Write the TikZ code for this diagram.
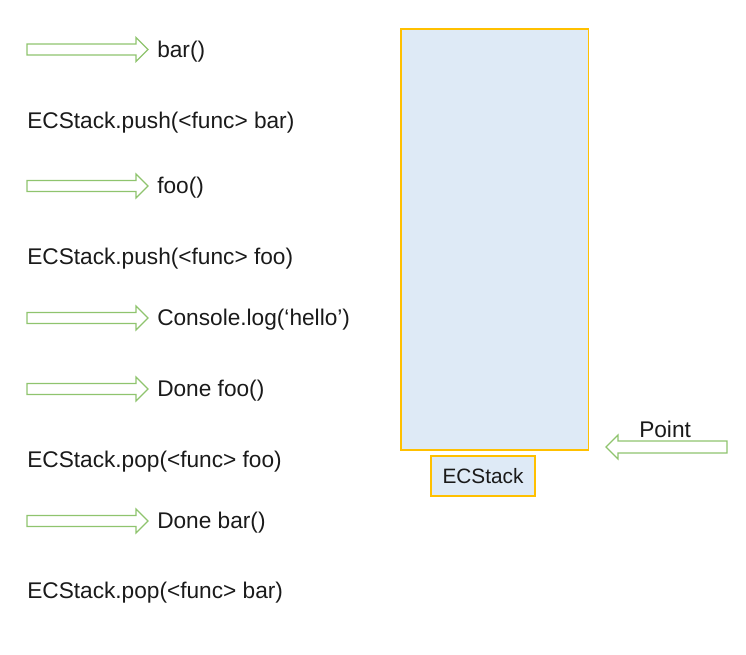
\documentclass[tikz,border=0pt]{standalone}
\usepackage{fontspec}
\setmainfont{Liberation Sans}
\definecolor{arrowgreen}{HTML}{8FC46E}
\definecolor{stackfill}{HTML}{DEEAF6}
\definecolor{stackline}{HTML}{FFC000}
\definecolor{txt}{HTML}{1A1A1A}
\begin{document}
\begin{tikzpicture}[x=0.75pt,y=-0.75pt,
  lbl/.style={anchor=west,inner sep=0pt,text=txt,font=\fontsize{17pt}{20pt}\selectfont},
  blockarrow/.style={draw=arrowgreen,fill=white,line width=0.9pt,line join=miter},
  stackbox/.style={draw=stackline,fill=stackfill,line width=0.8pt}]
\useasboundingbox (0,0) rectangle (746,654);
% right-pointing block arrows
\foreach \n/\y in {a1/49.5,a2/186,a3/318,a4/389,a5/521}{
  \draw[blockarrow] (27,\y-5.5) -- (136,\y-5.5) -- (136,\y-12) -- (148,\y) -- (136,\y+12) -- (136,\y+5.5) -- (27,\y+5.5) -- cycle;
}
\node[lbl] (t1) at (157,51.5) {bar()};
\node[lbl] (t2) at (27,122.5) {ECStack.push(<func> bar)};
\node[lbl] (t3) at (157,187.5) {foo()};
\node[lbl] (t4) at (27,258.5) {ECStack.push(<func> foo)};
\node[lbl] (t5) at (157,319.5) {Console.log(‘hello’)};
\node[lbl] (t6) at (157,390.5) {Done foo()};
\node[lbl] (t7) at (27,461.5) {ECStack.pop(<func> foo)};
\node[lbl] (t8) at (157,522.5) {Done bar()};
\node[lbl] (t9) at (27,592.5) {ECStack.pop(<func> bar)};
% stack
\draw[stackbox] (401,29) rectangle (588.5,450);
\node[stackbox,minimum width=104*0.75pt,minimum height=40*0.75pt,inner sep=0pt,text=txt,font=\fontsize{15.6pt}{18pt}\selectfont] (ecs) at (483,476) {ECStack};
% point arrow
\draw[blockarrow] (727,441) -- (618,441) -- (618,435) -- (606,447) -- (618,459) -- (618,453) -- (727,453) -- cycle;
\node[lbl] (pt) at (639,429) {Point};
\end{tikzpicture}
\end{document}
